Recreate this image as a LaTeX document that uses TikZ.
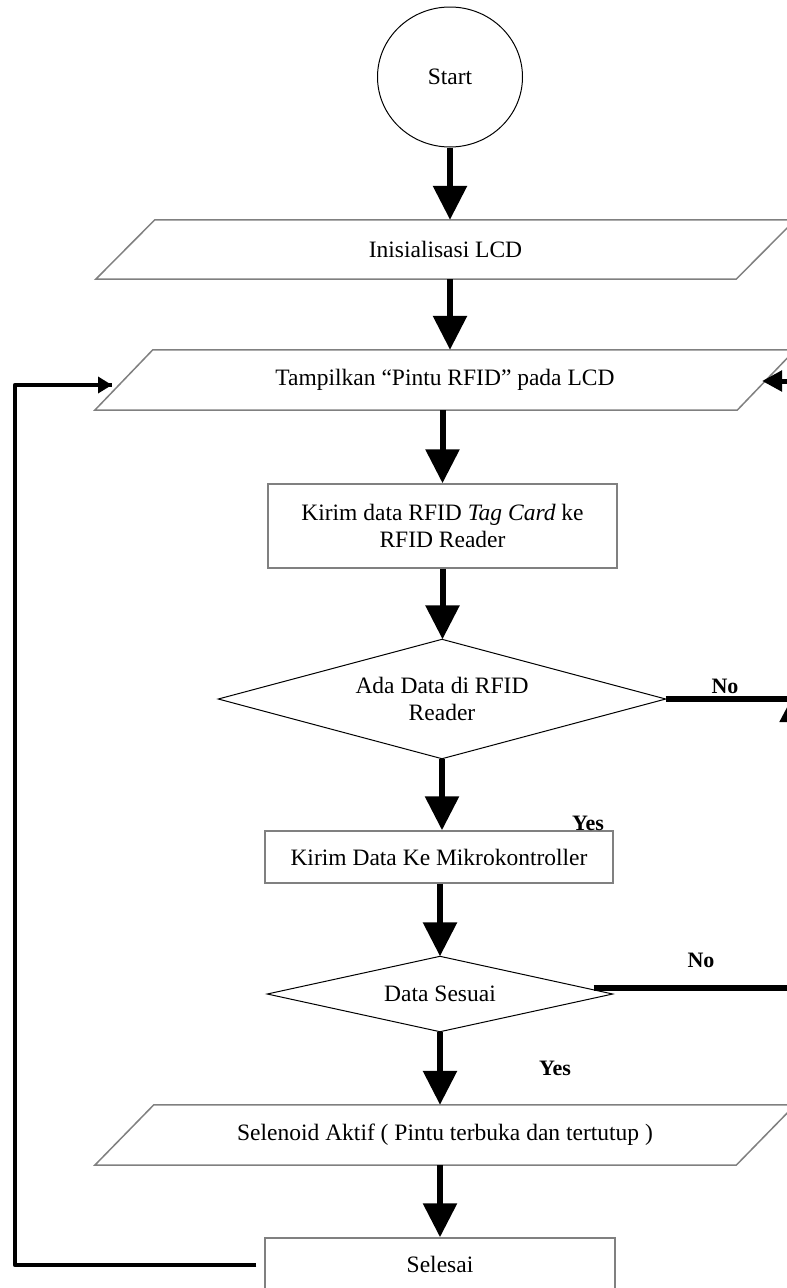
\documentclass[tikz,border=0pt]{standalone}
\usepackage{fontspec}
\setmainfont{Liberation Serif}
\usetikzlibrary{shapes.geometric,arrows.meta,calc}
\begin{document}
\begin{tikzpicture}[x=1pt,y=-1pt,
  txt/.style={font=\fontsize{23.5}{27}\selectfont, align=center, inner sep=0pt},
  rectbox/.style={txt, draw=black!50, line width=1.5pt},
  parabox/.style={txt},
  paraline/.style={draw=black!50, line width=1.5pt},
  dia/.style={txt},
  dialine/.style={draw=black, line width=1pt},
  flow/.style={line width=6pt, -{Triangle[width=33pt,length=34pt]}},
  back/.style={line width=5pt, -{Triangle[width=20pt,length=20pt]}},
  noline/.style={line width=6pt},
  lbl/.style={font=\fontsize{22}{24}\selectfont\bfseries, inner sep=0pt}
]
\useasboundingbox (0,0) rectangle (787,1288);
\clip (0,0) rectangle (787,1288);
\fill[white] (0,0) rectangle (787,1288);

% nodes
\node[txt, ellipse, draw=black, line width=1pt, minimum width=145pt, minimum height=140pt] (start) at (450,77) {Start};
\node[parabox, minimum width=699pt, minimum height=59pt] (init) at (445.5,249.5) {Inisialisasi LCD};
\node[parabox, minimum width=700pt, minimum height=60pt] (show) at (445,380) {Tampilkan “Pintu RFID” pada LCD};
\node[rectbox, minimum width=349pt, minimum height=84pt] (send) at (442.5,526) {Kirim data RFID \textit{Tag Card} ke\\RFID Reader};
\node[dia, minimum width=447pt, minimum height=119pt] (ada) at (442,699) {Ada Data di RFID\\Reader};
\node[rectbox, minimum width=348pt, minimum height=52pt] (mcu) at (439,857) {Kirim Data Ke Mikrokontroller};
\node[dia, minimum width=345pt, minimum height=75pt] (cek) at (440,994) {Data Sesuai};
\node[parabox, minimum width=700pt, minimum height=60pt] (sol) at (445,1135) {Selenoid Aktif ( Pintu terbuka dan tertutup )};
\node[rectbox, minimum width=350pt, minimum height=52pt] (fin) at (440,1264) {Selesai};

% parallelogram outlines
\foreach \n/\s in {init/59,show/58,sol/59}{
  \draw[paraline] ([xshift=\s pt]\n.north west) -- (\n.north east) -- ([xshift=-\s pt]\n.south east) -- (\n.south west) -- cycle;
}
% diamond outlines
\foreach \n in {ada,cek}{
  \draw[dialine] (\n.north) -- (\n.east) -- (\n.south) -- (\n.west) -- cycle;
}

% main flow
\draw[flow] (start.south) -- (start.south |- init.north);
\draw[flow] (init.south -| start.south) -- (start.south |- show.north);
\draw[flow] (send.north |- show.south) -- (send.north);
\draw[flow] (send.south) -- (send.south |- ada.north);
\draw[flow] (ada.south) -- (ada.south |- mcu.north);
\draw[flow] (cek.north |- mcu.south) -- (cek.north);
\draw[flow] (cek.south) -- (cek.south |- sol.north);
\draw[flow] (cek.south |- sol.south) -- (cek.south |- fin.north);

% right return path
\coordinate (R1) at (795,988);
\coordinate (R2) at (795,381);
\coordinate (Rin) at (762,381);
\coordinate (Rmid) at (795,725);
\coordinate (Rtip) at (795,692);
\draw[noline] (ada.east) -- (ada.east -| R1);
\draw[noline] ($(cek.east)+(-19,-6)$) -- (R1) -- (R2);
\draw[back] (R2) -- (Rin);
\draw[line width=5pt, -{Triangle[width=30pt,length=30pt]}] (Rmid) -- (Rtip);

% left return path
\coordinate (L1) at (15,1265);
\coordinate (L2) at (15,385);
\coordinate (Lin) at (112,385);
\draw[line width=4.5pt, line join=round] ([xshift=-8pt]fin.west |- L1) -- (L1) -- (L2) -- (Lin);
\draw[line width=3.5pt, -{Triangle[width=16pt,length=14pt]}] (90,385) -- (Lin);

% labels
\node[lbl] (no1) at (725,686) {No};
\node[lbl] (yes1) at (588,823) {Yes};
\node[lbl] (no2) at (701,960) {No};
\node[lbl] (yes2) at (555,1068) {Yes};
\end{tikzpicture}
\end{document}
